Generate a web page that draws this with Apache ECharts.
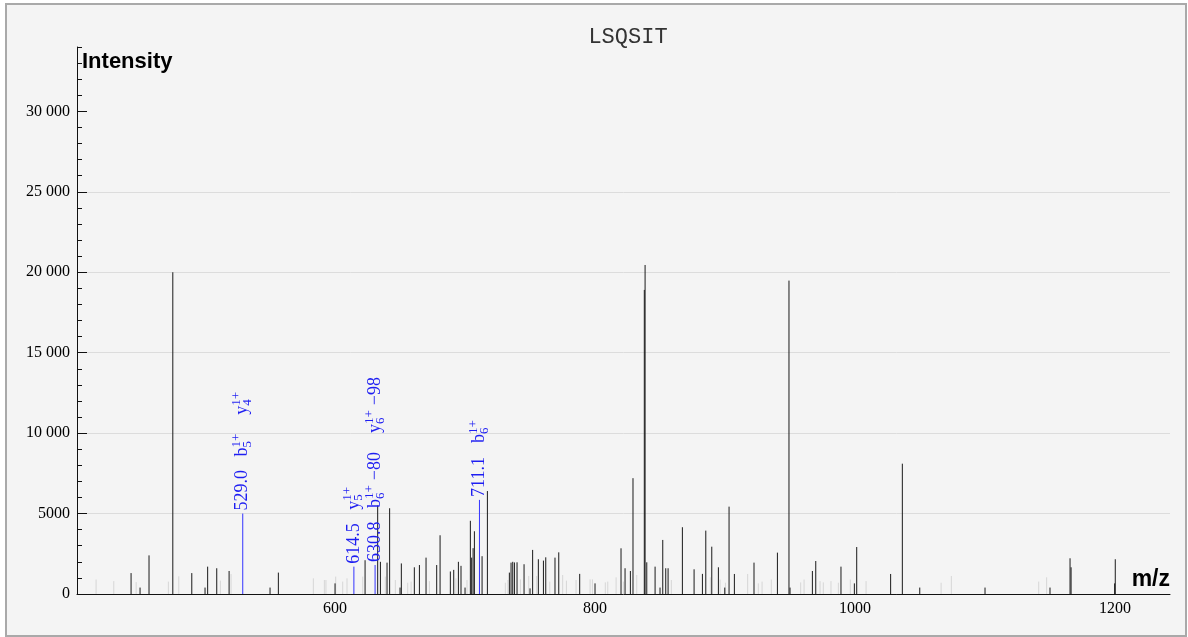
<!DOCTYPE html>
<html>
<head>
<meta charset="utf-8">
<title>LSQSIT</title>
<script src="https://cdn.jsdelivr.net/npm/echarts@6/dist/echarts.min.js"></script>
<style>
html, body { margin: 0; padding: 0; background: #fff; }
#chart { width: 1188px; height: 637px; }
</style>
</head>
<body>
<div id="chart"></div>
<script>
// unmatched peaks (light gray)
var lightMz = [416.2, 429.8, 447.0, 471.8, 479.8, 511.8, 520.0, 583.3, 591.8, 593.0, 600.5, 605.9, 609.2,
    621.3, 638.7, 646.4, 655.9, 658.5, 672.6, 693.0, 701.5, 731.0, 733.0, 742.6, 749.0, 755.1, 765.2,
    775.1, 778.0, 785.4, 796.2, 798.0, 807.9, 809.8, 816.2, 821.8, 832.1, 858.7, 888.7, 896.2, 900.3,
    917.4, 925.6, 928.5, 935.6, 958.2, 960.8, 973.1, 975.6, 981.5, 987.2, 996.4, 1008.5, 1066.2,
    1074.1, 1141.3, 1147.4];
var lightIntensity = [900, 800, 740, 770, 1100, 830, 1240, 975, 870, 870, 1080, 770, 975,
    1080, 1080, 870, 700, 770, 800, 975, 870, 700, 870, 910, 1120, 1120, 770,
    1180, 830, 870, 910, 910, 720, 770, 1035, 770, 1180, 870, 1040, 900, 700,
    1245, 660, 770, 900, 720, 900, 800, 720, 800, 700, 900, 800, 700,
    1120, 770, 1035];

// other peaks (dark)
var peakMz = [443.1, 450.0, 456.9, 475.2, 489.8, 500.0, 502.0, 509.0, 518.5, 550.0, 556.4, 600.0,
    623.1, 632.8, 634.9, 640.0, 642.0, 650.0, 651.0, 661.0, 664.9, 670.0, 678.2, 680.8, 688.7,
    691.3, 694.9, 696.9, 700.0, 704.1, 705.1, 706.2, 707.2, 713.1, 717.2, 734.1, 735.4, 736.7,
    738.0, 740.0, 745.4, 750.0, 752.0, 756.4, 760.3, 762.1, 769.2, 772.1, 788.2, 800.0, 820.0,
    823.1, 827.2, 829.2, 837.9, 838.5, 839.8, 846.2, 850.0, 852.1, 854.4, 856.2, 867.2, 876.2,
    882.6, 885.2, 889.8, 894.9, 899.8, 903.1, 907.2, 922.3, 940.3, 949.2, 950.0, 967.2, 969.8,
    989.2, 999.5, 1001.3, 1027.4, 1036.4, 1049.8, 1100.0, 1150.0, 1165.4, 1166.2, 1199.7, 1200.2];
var peakIntensity = [1300, 400, 2400, 20000, 1300, 400, 1700, 1600, 1430, 400, 1330, 660,
    2100, 5500, 2000, 1950, 5330, 400, 1900, 1660, 1800, 2260, 1800, 3650, 1400,
    1500, 2000, 1750, 400, 4550, 2260, 2850, 3900, 2350, 6400, 1330, 1950, 2000,
    1960, 1970, 1850, 350, 2740, 2160, 2075, 2280, 2260, 2590, 1250, 660, 2840,
    1600, 1430, 7200, 18900, 20450, 1970, 1700, 400, 3360, 1600, 1600, 4150, 1535,
    1250, 3940, 2940, 1660, 400, 5430, 1245, 1950, 2570, 19480, 400, 1430, 2050,
    1700, 660, 2920, 1245, 8100, 400, 400, 400, 2220, 1660, 660, 2160];

// annotated fragment ions: [ion, subscript, superscript, neutral loss]
var ionMz = [529.0, 614.5, 630.8, 711.1];
var ionIntensity = [5000, 1700, 1800, 5850];
var ionText = ['529.0', '614.5', '630.8', '711.1'];
var ionNames = [
    [['b', '5', '1+', ''], ['y', '4', '1+', '']],
    [['y', '5', '1+', '']],
    [['b', '6', '1+', '\u221280'], ['y', '6', '1+', '\u221298']],
    [['b', '6', '1+', '']]
];

var xLabels = [600, 800, 1000, 1200];
var yLabels = [0, 5000, 10000, 15000, 20000, 25000, 30000];

var BLUE = '#1e1ef2';
var SERIF = 'Liberation Serif';

var measureCtx = document.createElement('canvas').getContext('2d');
function textWidth(s, size) {
    measureCtx.font = size + 'px "' + SERIF + '"';
    return measureCtx.measureText(s).width;
}

function fmtNum(v) {
    if (v >= 10000) {
        return String(v).replace(/\B(?=(\d{3})+(?!\d))/g, ' ');
    }
    return String(v);
}

function stick(color) {
    return function(params, api) {
        var top = api.coord([api.value(0), api.value(1)]);
        var base = api.coord([api.value(0), 0]);
        return {
            type: 'line',
            shape: { x1: top[0], y1: base[1], x2: top[0], y2: top[1] },
            style: { stroke: color, lineWidth: 1 }
        };
    };
}

function label(text, x, y, size) {
    return {
        type: 'text',
        x: x,
        y: y,
        style: {
            text: text,
            fill: BLUE,
            fontFamily: SERIF,
            fontSize: size,
            align: 'left',
            verticalAlign: 'middle'
        }
    };
}

function ionStick(params, api) {
    var i = params.dataIndex;
    var top = api.coord([api.value(0), api.value(1)]);
    var base = api.coord([api.value(0), 0]);
    var parts = [label(ionText[i], 3, 0, 18)];
    var pos = 57;
    ionNames[i].forEach(function(ion) {
        parts.push(label(ion[0], pos, 0, 18));
        var p = pos + textWidth(ion[0], 18);
        parts.push(label(ion[2], p, -6, 13));   // charge, superscript
        parts.push(label(ion[1], p, 5, 13));    // index, subscript
        p += Math.max(textWidth(ion[2], 13), textWidth(ion[1], 13));
        if (ion[3]) {
            p += 5;
            parts.push(label(ion[3], p, 0, 18));
            p += textWidth(ion[3], 18);
        }
        pos = p + 19;
    });
    return {
        type: 'group',
        children: [
            {
                type: 'line',
                shape: { x1: top[0], y1: base[1], x2: top[0], y2: top[1] },
                style: { stroke: '#3434ff', lineWidth: 1 }
            },
            {
                type: 'group',
                x: top[0],
                y: top[1],
                rotation: Math.PI / 2,
                children: parts
            }
        ]
    };
}

function pairs(xs, ys) {
    return xs.map(function(x, i) { return [x, ys[i]]; });
}

var option = {
    animation: false,
    graphic: [{
        type: 'rect',
        z: -10,
        silent: true,
        shape: { x: 6, y: 4, width: 1180, height: 632 },
        style: { fill: '#f4f4f4', stroke: '#a9a9a9', lineWidth: 2 }
    }],
    title: {
        text: 'LSQSIT',
        left: 623,
        top: 21,
        textAlign: 'center',
        textStyle: { fontFamily: 'Liberation Mono', fontSize: 22, fontWeight: 'normal', color: '#333' }
    },
    grid: { left: 77, right: 18, top: 47, bottom: 43 },
    xAxis: {
        type: 'value',
        min: 401.5,
        max: 1242.3,
        name: 'm/z',
        nameLocation: 'end',
        nameGap: 0,
        nameTextStyle: {
            fontFamily: 'Liberation Sans', fontWeight: 'bold', fontSize: 23, color: '#000',
            align: 'right', verticalAlign: 'bottom', padding: [0, 0, 3, 0]
        },
        axisLine: { lineStyle: { color: '#111', width: 1 } },
        axisTick: { show: false },
        axisLabel: {
            customValues: xLabels,
            margin: 7,
            fontFamily: SERIF, fontSize: 16, color: '#000',
            formatter: function(v) { return String(v); }
        },
        splitLine: { show: false }
    },
    yAxis: [
        {
            type: 'value',
            min: 0,
            max: 34000,
            interval: 1000,
            position: 'left',
            name: 'Intensity',
            nameLocation: 'end',
            nameGap: -15,
            nameTextStyle: {
                fontFamily: 'Liberation Sans', fontWeight: 'bold', fontSize: 22, color: '#000',
                align: 'left', verticalAlign: 'middle', padding: [0, 0, 0, 5]
            },
            axisLine: { show: true, lineStyle: { color: '#111', width: 1 } },
            axisTick: { show: true, inside: true, length: 5, lineStyle: { color: '#111' } },
            axisLabel: {
                margin: 7,
                fontFamily: SERIF, fontSize: 16, color: '#000',
                formatter: function(v) { return yLabels.indexOf(v) >= 0 ? fmtNum(v) : ''; }
            },
            splitLine: { show: false }
        },
        {
            type: 'value',
            min: 0,
            max: 34000,
            interval: 5000,
            position: 'left',
            axisLine: { show: false },
            axisLabel: { show: false },
            axisTick: { show: true, inside: true, length: 10, customValues: yLabels, lineStyle: { color: '#111' } },
            splitLine: { show: true, showMinLine: false, showMaxLine: false, lineStyle: { color: '#dcdcdc', width: 1 } }
        }
    ],
    series: [
        {
            name: 'unmatched',
            type: 'custom',
            renderItem: stick('#d6d6d6'),
            encode: { x: 0, y: 1 },
            data: pairs(lightMz, lightIntensity),
            z: 2
        },
        {
            name: 'peaks',
            type: 'custom',
            renderItem: stick('#1a1a1a'),
            encode: { x: 0, y: 1 },
            data: pairs(peakMz, peakIntensity),
            z: 3
        },
        {
            name: 'ions',
            type: 'custom',
            renderItem: ionStick,
            encode: { x: 0, y: 1 },
            data: pairs(ionMz, ionIntensity),
            z: 4
        }
    ]
};

var myChart = echarts.init(document.getElementById('chart'));
myChart.setOption(option);
</script>
</body>
</html>
